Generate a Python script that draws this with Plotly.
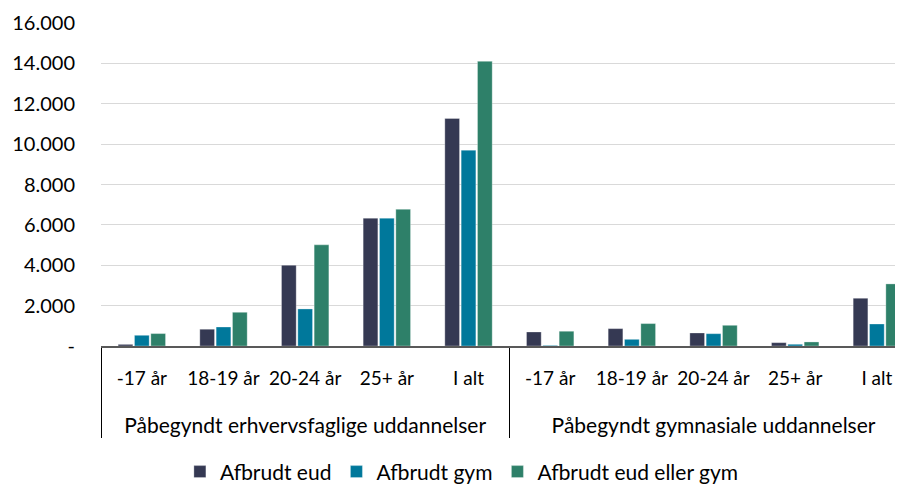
import plotly.graph_objects as go

groups = ["Påbegyndt erhvervsfaglige uddannelser"] * 5 + ["Påbegyndt gymnasiale uddannelser"] * 5
ages = ["-17 år", "18-19 år", "20-24 år", "25+ år", "I alt"] * 2

afbrudt_eud = [80, 830, 4000, 6330, 11270, 695, 860, 645, 165, 2365]
afbrudt_gym = [530, 940, 1835, 6330, 9700, 30, 330, 610, 85, 1090]
afbrudt_eud_eller_gym = [615, 1670, 5010, 6770, 14100, 730, 1110, 1025, 200, 3075]

series_names = ["Afbrudt eud", "Afbrudt gym", "Afbrudt eud eller gym"]
series_colors = ["#353953", "#00789B", "#2E8069"]

y_tickvals = [0, 2000, 4000, 6000, 8000, 10000, 12000, 14000, 16000]
y_ticktext = ["-", "2.000", "4.000", "6.000", "8.000", "10.000", "12.000", "14.000", "16.000"]

# label styling for the two category levels
group_labels = ["<br><span style='font-size:21px'>" + g + "</span>" for g in groups]
age_labels = ["<span style='font-size:19px'>" + a + "</span>" for a in ages]

fig = go.Figure()
for name, vals, col in zip(series_names, [afbrudt_eud, afbrudt_gym, afbrudt_eud_eller_gym], series_colors):
    fig.add_trace(go.Bar(
        x=[group_labels, age_labels], y=vals, name=name,
        marker=dict(color=col, line=dict(color="rgba(255,255,255,0.5)", width=0.6)),
    ))

fig.update_layout(
    width=895, height=477,
    barmode="group", bargap=0.4, bargroupgap=0.1,
    plot_bgcolor="white", paper_bgcolor="white",
    font=dict(family="Lato", size=21, color="#000000"),
    margin=dict(l=93, r=0, t=15, b=139, autoexpand=False),
    legend=dict(orientation="h", x=0.45, xanchor="center", y=-0.39, yanchor="middle",
                font=dict(size=21), itemwidth=30),
    showlegend=True,
)
fig.update_yaxes(
    range=[0, 16000], tickvals=y_tickvals, ticktext=y_ticktext,
    showgrid=True, gridcolor="#D9D9D9", gridwidth=1, zeroline=False,
    ticklabelstandoff=25, showline=False, tickfont=dict(size=20),
)
fig.update_xaxes(
    type="multicategory", range=[-0.5, 9.32], automargin=False,
    showline=True, linecolor="#595959", linewidth=1.5,
    showdividers=True, dividercolor="#000000", dividerwidth=1,
    ticks="", showgrid=False, ticklabelstandoff=8, tickangle=0,
    tickfont=dict(size=24),
)

fig.write_html("out.html")
